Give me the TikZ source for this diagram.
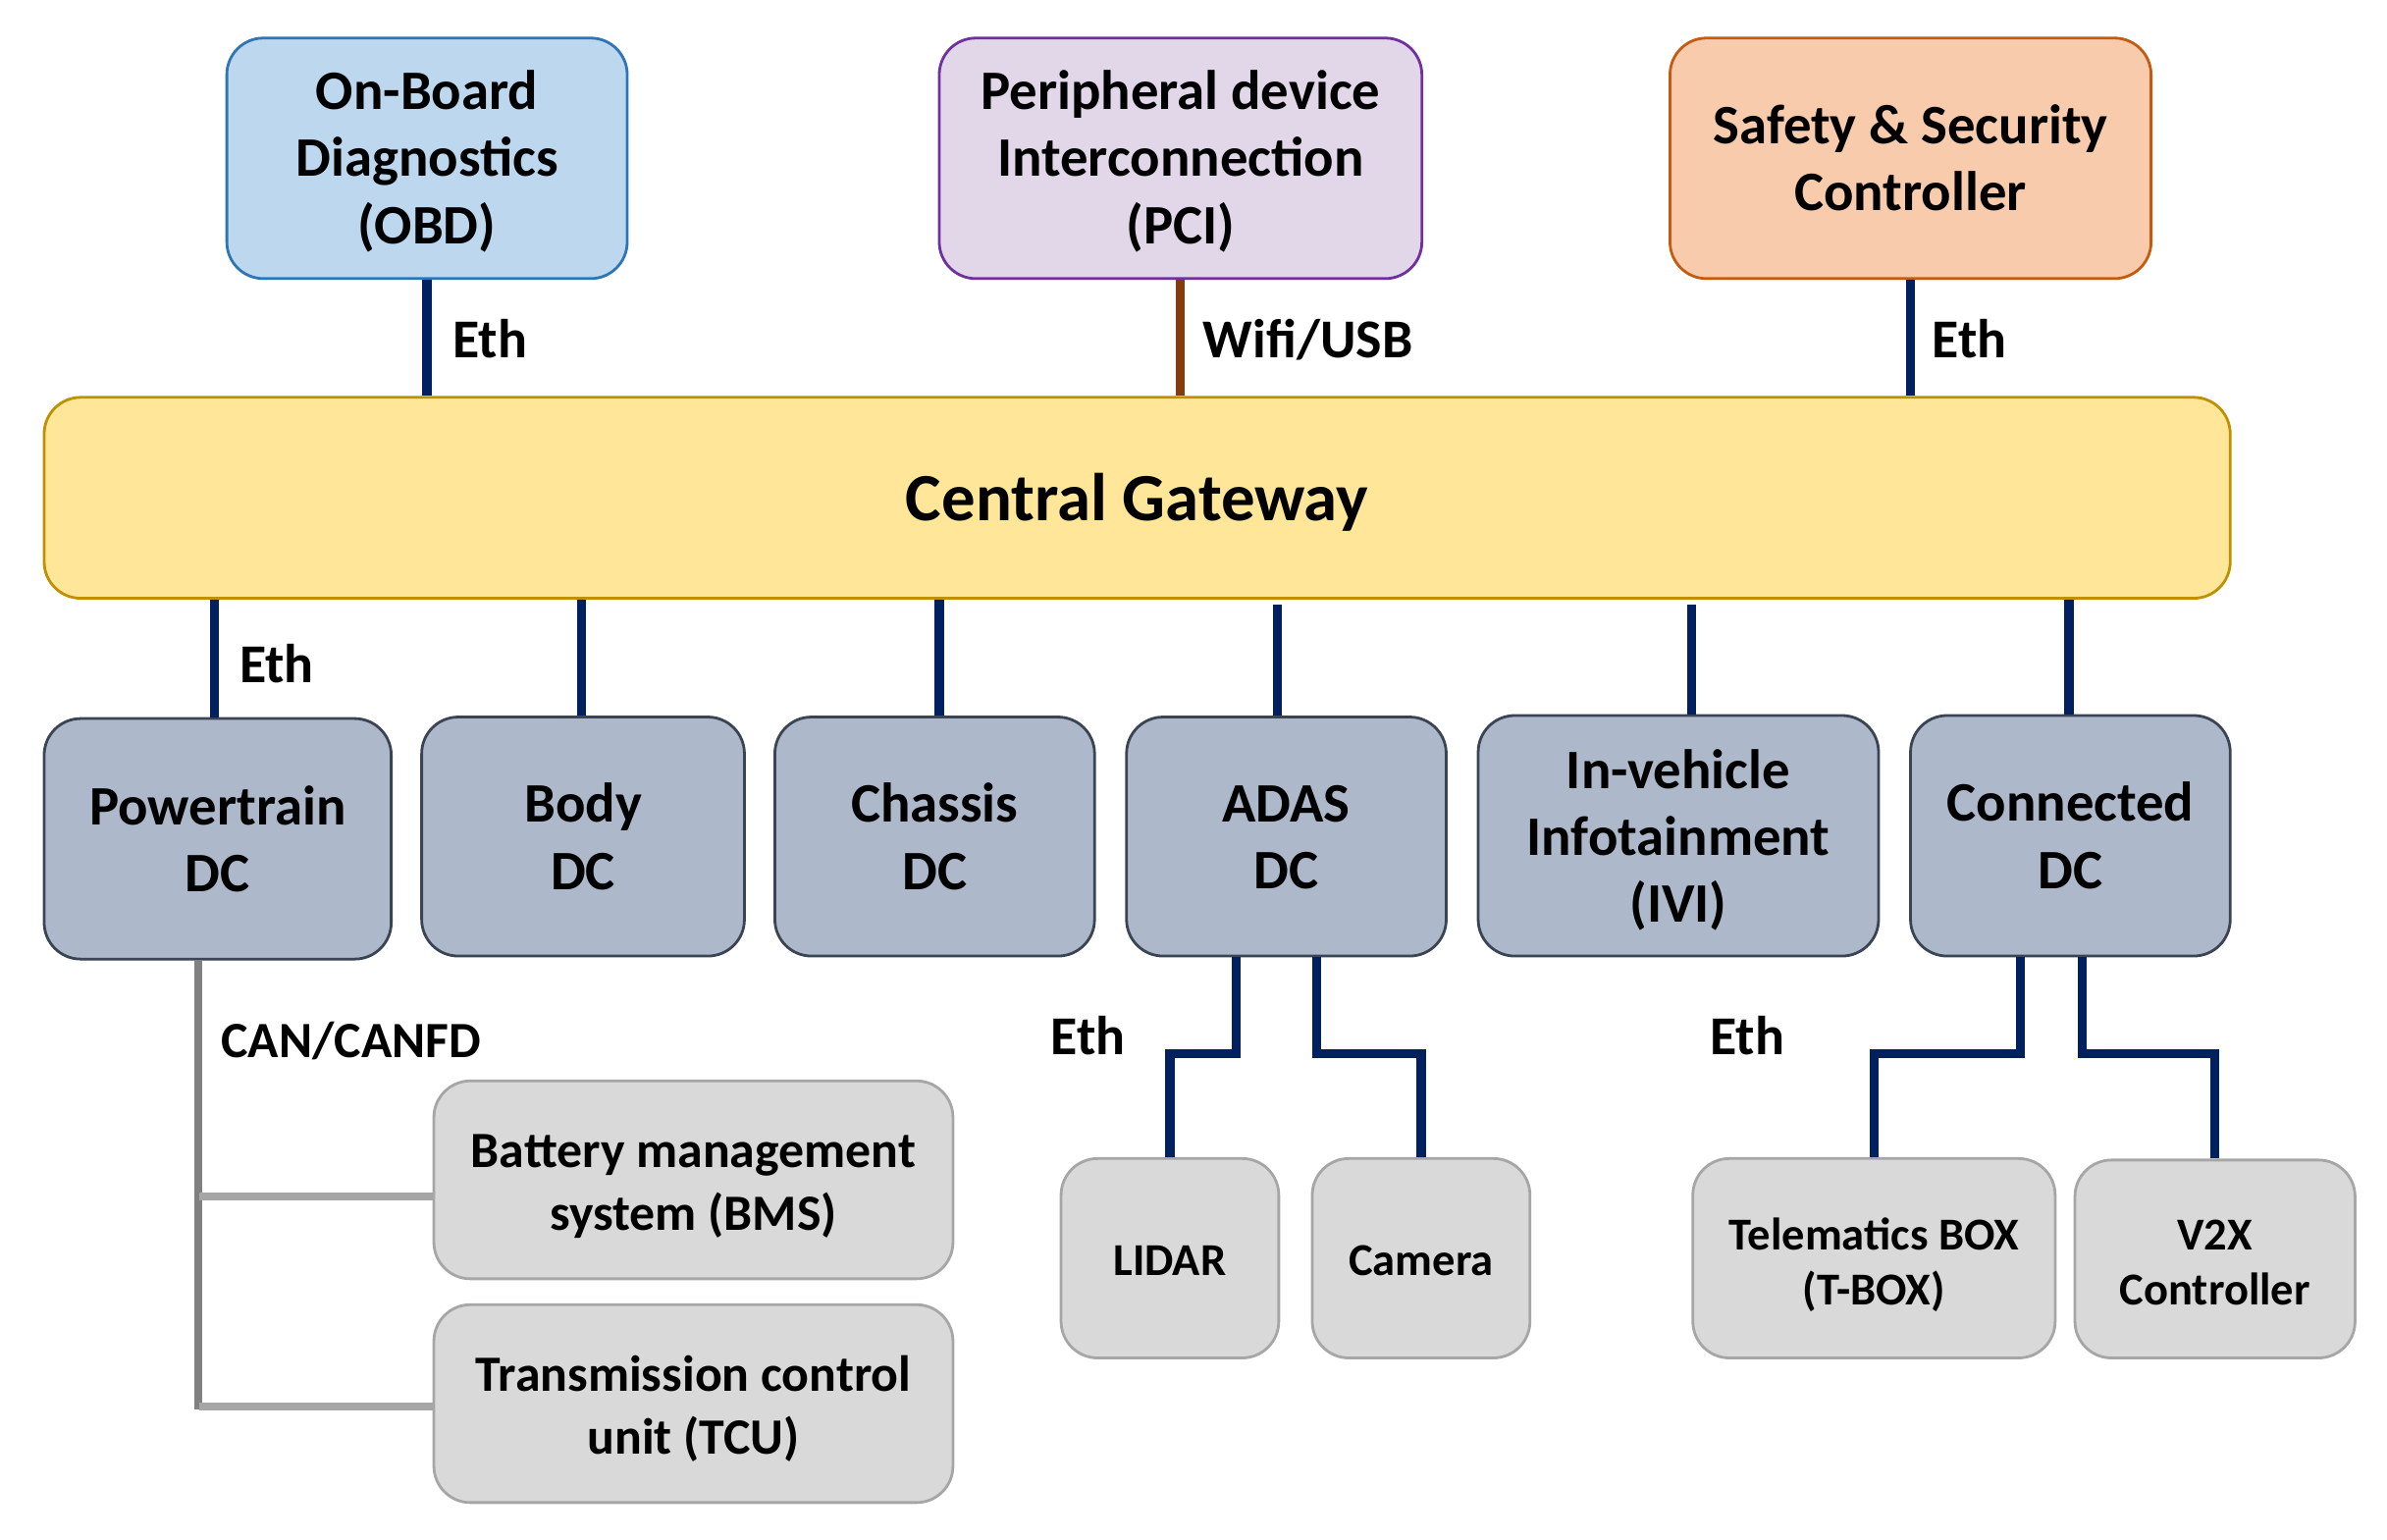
\documentclass[tikz,border=0pt]{standalone}
\usepackage{fontspec}
\setmainfont{Carlito}
\begin{document}
\begin{tikzpicture}[x=0.5pt,y=-0.5pt,
  every node/.style={font=\bfseries, align=center, inner sep=0pt},
  topbox/.style={draw, line width=0.9pt, rounded corners=12pt, minimum height=79pt, font=\fontsize{18.3}{22}\selectfont\bfseries},
  dcbox/.style={draw=dcborder, fill=dcfill, line width=0.9pt, rounded corners=12pt, minimum height=78.5pt, font=\fontsize{18.3}{22}\selectfont\bfseries},
  subbox/.style={draw=subborder, fill=subfill, line width=0.9pt, rounded corners=12pt},
  ethline/.style={draw=navy, line width=3pt},
  lbl/.style={anchor=base west, font=\fontsize{18}{21}\selectfont\bfseries},
  tb/.style 2 args={text height=#1pt, text depth=#2pt},
]
\definecolor{obdfill}{HTML}{BDD7EE}
\definecolor{obdborder}{HTML}{2E75B6}
\definecolor{pcifill}{HTML}{E2D6E9}
\definecolor{pciborder}{HTML}{7030A0}
\definecolor{sscfill}{HTML}{F8CBAD}
\definecolor{sscborder}{HTML}{C55A11}
\definecolor{cgwfill}{HTML}{FFE699}
\definecolor{cgwborder}{HTML}{BF9000}
\definecolor{dcfill}{HTML}{ADB9CA}
\definecolor{dcborder}{HTML}{3B4453}
\definecolor{subfill}{HTML}{D9D9D9}
\definecolor{subborder}{HTML}{A6A6A6}
\definecolor{navy}{HTML}{002060}
\definecolor{brown}{HTML}{843C0C}
\definecolor{cangray}{HTML}{808080}
\definecolor{canlight}{HTML}{A6A6A6}

\useasboundingbox (0,0) rectangle (1568,1011);

% top boxes
\node[topbox, draw=obdborder, fill=obdfill, minimum width=131.5pt, tb={67.5}{11.5}] (obd) at (280.5,104) {On-Board\\Diagnostics\\(OBD)};
\node[topbox, draw=pciborder, fill=pcifill, minimum width=158.5pt, tb={67.5}{11.5}] (pci) at (775.5,104) {Peripheral device\\Interconnection\\(PCI)};
\node[topbox, draw=sscborder, fill=sscfill, minimum width=158pt, tb={56.7}{22.3}] (ssc) at (1255,104) {Safety \& Security\\Controller};

% gateway
\node[draw=cgwborder, fill=cgwfill, line width=0.9pt, rounded corners=12pt, minimum width=718pt, minimum height=66pt, font=\fontsize{22.2}{26}\selectfont\bfseries, tb={40.5}{25.5}] (cgw) at (747,327) {Central Gateway};

% domain controllers
\node[dcbox, minimum width=114pt, minimum height=79pt, tb={57}{22}] (pt) at (143,551) {Powertrain\\DC};
\node[dcbox, minimum width=106pt, tb={56.6}{21.9}] (body) at (383,549.5) {Body\\DC};
\node[dcbox, minimum width=105pt, tb={56.6}{21.9}] (chassis) at (614,549.5) {Chassis\\DC};
\node[dcbox, minimum width=105pt, tb={56.4}{22.1}] (adas) at (845,549.5) {ADAS\\DC};
\node[dcbox, minimum width=131.5pt, minimum height=79pt, tb={68}{11}] (ivi) at (1102.5,549) {In-vehicle\\Infotainment\\(IVI)};
\node[dcbox, minimum width=105pt, minimum height=79pt, tb={56.8}{22.2}] (conn) at (1360,549) {Connected\\DC};

% sub boxes
\node[subbox, minimum width=170.5pt, minimum height=65pt, font=\fontsize{16.7}{20.5}\selectfont\bfseries, tb={49}{16}] (bms) at (455.5,775) {Battery management\\system (BMS)};
\node[subbox, minimum width=170.5pt, minimum height=65pt, font=\fontsize{16.7}{20.5}\selectfont\bfseries, tb={49}{16}] (tcu) at (455.5,922) {Transmission control\\unit (TCU)};
\node[subbox, minimum width=71.5pt, minimum height=65.5pt, font=\fontsize{15}{18}\selectfont\bfseries, tb={38.5}{27}] (lidar) at (768.5,826.5) {LIDAR};
\node[subbox, minimum width=71.5pt, minimum height=65.5pt, font=\fontsize{15}{18}\selectfont\bfseries, tb={38.5}{27}] (cam) at (933.5,826.5) {Camera};
\node[subbox, minimum width=119pt, minimum height=65.5pt, font=\fontsize{15}{18}\selectfont\bfseries, tb={48}{17.5}] (tbox) at (1231,826.5) {Telematics BOX\\(T-BOX)};
\node[subbox, minimum width=92pt, minimum height=65pt, font=\fontsize{15}{18}\selectfont\bfseries, tb={47.5}{17.5}] (v2x) at (1455,827) {V2X\\Controller};

% top connectors
\draw[ethline] (obd.south) -- (cgw.north -| obd.south);
\draw[draw=brown, line width=3pt] (pci.south) -- (cgw.north -| pci.south);
\draw[ethline] (ssc.south) -- (cgw.north -| ssc.south);

% gateway to DCs
\draw[ethline] (cgw.south -| 141,0) -- (pt.north -| 141,0);
\draw[ethline] (cgw.south -| 382,0) -- (body.north -| 382,0);
\draw[ethline] (cgw.south -| 617,0) -- (chassis.north -| 617,0);
\draw[ethline] ([yshift=-1.5pt]cgw.south -| 839,0) -- (adas.north -| 839,0);
\draw[ethline] ([yshift=-1.5pt]cgw.south -| 1111,0) -- (ivi.north -| 1111,0);
\draw[ethline] (cgw.south -| 1359,0) -- (conn.north -| 1359,0);

% ADAS sub connectors
\draw[ethline] (adas.south -| 812,0) -- (812,692) -| (lidar.north);
\draw[ethline] (adas.south -| 865,0) -- (865,692) -| (cam.north);
% Connected sub connectors
\draw[ethline] (conn.south -| 1327,0) -- (1327,692) -| (tbox.north);
\draw[ethline] (conn.south -| 1368,0) -- (1368,692) -| (v2x.north);

% CAN bus
\draw[draw=cangray, line width=2.5pt] (pt.south -| 130,0) -- (130,926);
\draw[draw=canlight, line width=2.5pt] (131,786) -- (bms.west |- 0,786);
\draw[draw=canlight, line width=2.5pt] (131,924) -- (tcu.west |- 0,924);

% labels
\node[lbl] (l1) at (297,235) {Eth};
\node[lbl] (l2) at (790,235) {Wifi/USB};
\node[lbl] (l3) at (1269,235) {Eth};
\node[lbl] (l4) at (157,448.5) {Eth};
\node[lbl, font=\fontsize{16.7}{20}\selectfont\bfseries] (l5) at (145,695) {CAN/CANFD};
\node[lbl] (l6) at (690,693) {Eth};
\node[lbl] (l7) at (1123,693) {Eth};
\end{tikzpicture}
\end{document}
